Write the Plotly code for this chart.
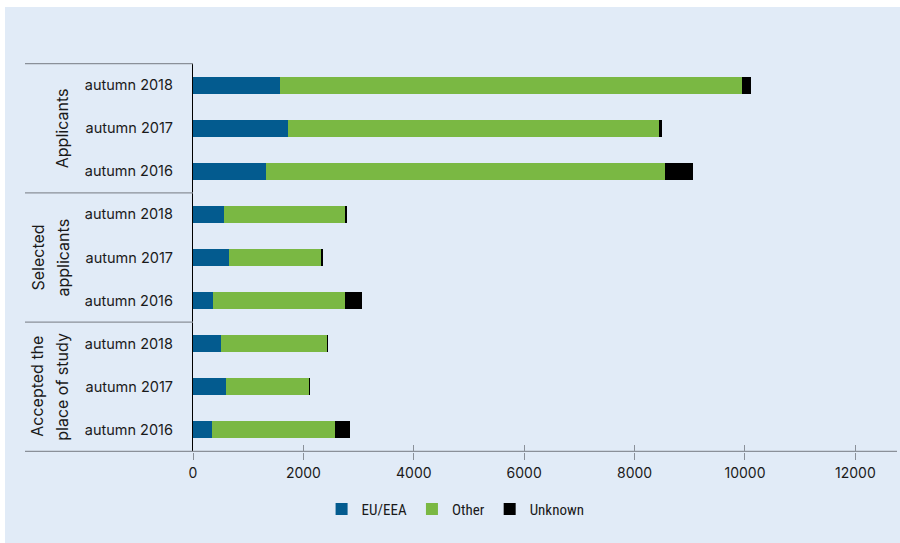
import plotly.graph_objects as go

groups = ["Applicants", "Applicants", "Applicants",
          "Selected applicants", "Selected applicants", "Selected applicants",
          "Accepted the place of study", "Accepted the place of study", "Accepted the place of study"]
years = ["autumn 2018", "autumn 2017", "autumn 2016"] * 3
eu_eea = [1573, 1714, 1322, 558, 648, 364, 503, 606, 339]
other = [8367, 6721, 7220, 2206, 1679, 2381, 1927, 1503, 2225]
unknown = [167, 67, 516, 24, 13, 310, 12, 10, 284]
x_ticks = [0, 2000, 4000, 6000, 8000, 10000, 12000]
x_tick_labels = ["0", "2000", "4000", "6000", "8000", "10000", "12000"]

cats = [f"{g}|{y}" for g, y in zip(groups, years)]

BG = "#E1EBF7"
FONT = "Inter"

fig = go.Figure()
for name, vals, col in [("EU/EEA", eu_eea, "#035B8F"),
                        ("Other", other, "#7AB843"),
                        ("Unknown", unknown, "#000000")]:
    fig.add_trace(go.Bar(y=cats, x=vals, name=name, orientation="h",
                         marker=dict(color=col, line=dict(width=0)), width=0.4))

fig.update_layout(
    barmode="stack",
    width=900, height=543,
    margin=dict(l=193, r=3, t=63, b=91),
    paper_bgcolor="white",
    plot_bgcolor=BG,
    font=dict(family=FONT, size=14, color="#1a1a1a"),
    showlegend=True,
    legend=dict(orientation="h", x=0.373, xanchor="center", y=-0.105, yanchor="top",
                bgcolor="rgba(0,0,0,0)",
                font=dict(family="Liberation Sans Narrow, Roboto Condensed, Roboto", size=15),
                itemwidth=30, traceorder="normal"),
    xaxis=dict(range=[0, 12754], tickvals=x_ticks, ticktext=x_tick_labels,
               showgrid=False, zeroline=False,
               showline=False, ticks="outside", ticklen=7, tickcolor="#8a9099",
               tickfont=dict(size=14), ticklabelstandoff=1),
    xaxis2=dict(range=[0, 12754], tickvals=x_ticks, overlaying="x", side="bottom",
                showgrid=False, zeroline=False, showline=False, ticks="inside",
                ticklen=7, tickcolor="#8a9099", showticklabels=False),
    yaxis=dict(categoryorder="array", categoryarray=cats, autorange="reversed",
               tickvals=cats, ticktext=years, showgrid=False, zeroline=False,
               showline=True, linecolor="black", linewidth=1.2, ticks="",
               tickfont=dict(size=14.5), ticklabelstandoff=16),
)

shapes = []
# full-page light blue panel
shapes.append(dict(type="rect", xref="paper", yref="paper", layer="below",
                   x0=(5 - 193) / 704, x1=1.01, y0=-91 / 389, y1=(63 - 7) / 389 + 1,
                   fillcolor=BG, line=dict(width=0)))
# group divider lines on the left
for yv in [-0.5, 2.5, 5.5]:
    shapes.append(dict(type="line", xref="paper", yref="y", x0=(25 - 193) / 704, x1=0,
                       y0=yv, y1=yv, line=dict(color="#8a9099", width=1.2)))
# bottom axis line
shapes.append(dict(type="line", xref="paper", yref="y", x0=(25 - 193) / 704, x1=1,
                   y0=8.5, y1=8.5, line=dict(color="#8a9099", width=1.2)))
fig.update_layout(shapes=shapes)

# hidden trace to attach xaxis2
fig.add_trace(go.Scatter(x=[None], y=[None], xaxis="x2", showlegend=False, hoverinfo="skip"))

ann = []
label_lines = {
    "Applicants": [("Applicants", 62)],
    "Selected applicants": [("Selected", 37), ("applicants", 62)],
    "Accepted the place of study": [("Accepted the", 37), ("place of study", 62)],
}
seen = []
for i, g in enumerate(groups):
    if g in seen:
        continue
    seen.append(g)
    idx = [j for j, gg in enumerate(groups) if gg == g]
    center = cats[idx[len(idx) // 2]]
    for txt, px in label_lines[g]:
        ann.append(dict(text=txt, xref="paper", yref="y", x=(px - 193) / 704, y=center,
                        textangle=-90, showarrow=False, xanchor="center", yanchor="middle",
                        font=dict(family=FONT, size=16, color="#1a1a1a")))
fig.update_layout(annotations=ann)

fig.write_html("out.html")
